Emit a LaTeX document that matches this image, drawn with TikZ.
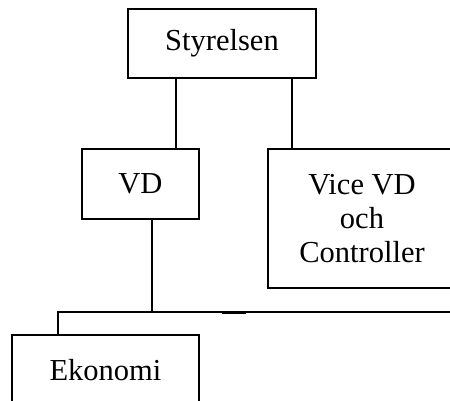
\documentclass[tikz,border=0pt]{standalone}
\usepackage{fontspec}
\setmainfont{Liberation Serif}
\begin{document}
\begin{tikzpicture}[x=1pt,y=-1pt,
  orgbox/.style={draw=black,line width=1.5pt,rectangle,inner sep=0pt,
    align=center,font=\fontsize{30.5}{34}\selectfont},
  link/.style={draw=black,line width=1.5pt}]
\useasboundingbox (0,0) rectangle (450,401);
\clip (0,0) rectangle (450,401);
\fill[white] (0,0) rectangle (450,401);

% boxes
\node[orgbox,minimum width=188pt,minimum height=69pt] (sty) at (222,43.5) {Styrelsen};
\node[orgbox,minimum width=117pt,minimum height=70pt] (vd) at (140.5,184) {VD};
\node[orgbox,minimum width=188pt,minimum height=139pt] (vice) at (362,218.5) {Vice VD\\och\\Controller};
\node[orgbox,minimum width=187pt,minimum height=70pt] (eko) at (105.5,370) {Ekonomi};

% junction points on the horizontal bus
\coordinate (jvd) at (152,312);
\coordinate (jeko) at (58,312);
\coordinate (jend) at (470,312);

% connectors
\draw[link] (sty.south -| 176,0) -- (vd.north -| 176,0);
\draw[link] (sty.south -| 292,0) -- (vice.north -| 292,0);
\draw[link] (vd.south -| jvd) -- (jvd);
\draw[link,line cap=rect] (jeko) -- (jend);
\draw[link] (jeko) -- (eko.north -| jeko);
\draw[draw=black,line width=3pt] (222,312) -- (246,312);
\end{tikzpicture}
\end{document}
